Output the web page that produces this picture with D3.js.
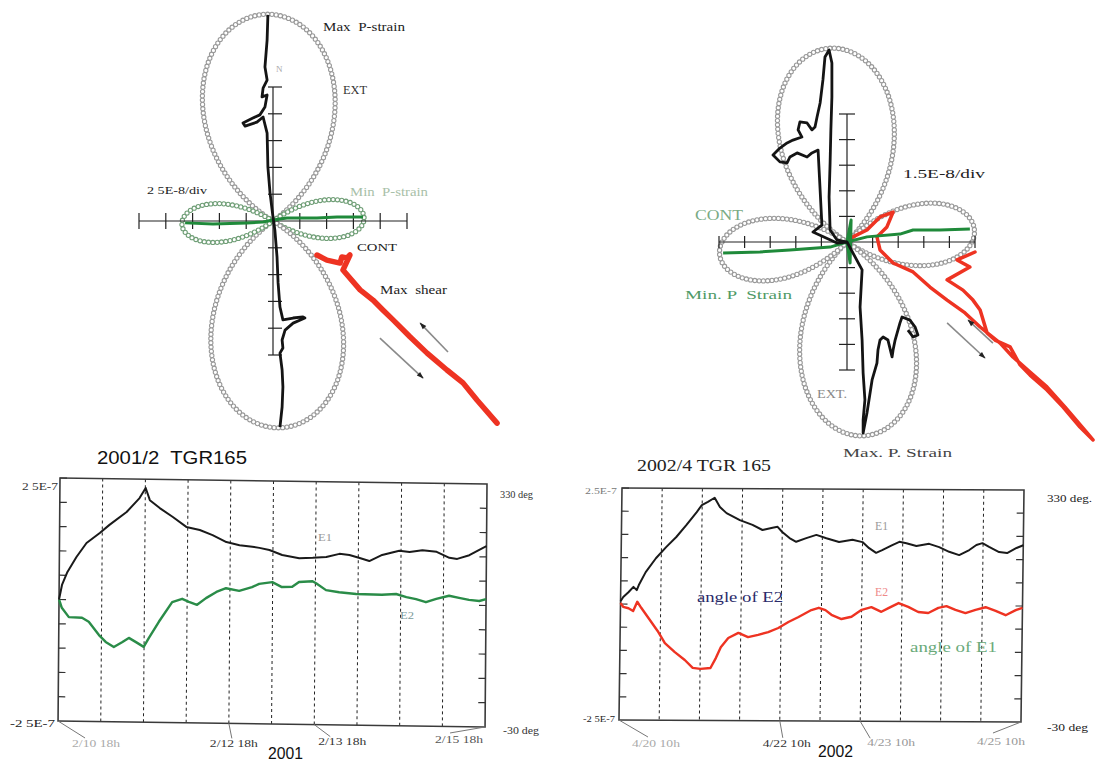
<!DOCTYPE html>
<html><head><meta charset="utf-8">
<script src="https://cdn.jsdelivr.net/npm/d3@7"></script>
<style>body{margin:0;background:#fff} svg{display:block} text{white-space:pre}</style>
</head><body>
<svg id="c" width="1099" height="762"></svg>
<script>
// ================= DATA =================
// Strain rosettes: principal strains and azimuth of max P-strain (deg, clockwise from N)
const rosetteScale2001 = 2.5e-8;          // per division
const rosetteE1_2001 = 1.93e-7;           // Max P-strain (EXT)
const rosetteE2_2001 = -0.85e-7;          // Min P-strain (CONT)
const rosetteAz2001 = -2;
const rosetteScale2002 = 1.5e-8;
const rosetteE1_2002 = 1.14e-7;
const rosetteE2_2002 = -0.75e-7;
const rosetteAz2002 = -5.5;

// Traces in rosette divisions [east, north]
const maxTrace2001 = [[-0.19,7.69],[-0.22,6.75],[-0.30,5.75],[-0.22,5.26],[-0.37,4.96],[-0.41,4.63],[-0.22,4.70],[-0.30,4.25],[-0.49,3.96],[-0.75,3.84],[-1.12,3.66],[-1.04,3.54],[-0.60,3.69],[-0.37,3.88],[-0.22,3.28],[-0.19,2.01],[-0.11,1.04],[0,0.15],
  [0.07,-0.34],[0.15,-1.34],[0.19,-2.31],[0.26,-3.21],[0.37,-3.69],[0.75,-3.62],[1.12,-3.58],[1.19,-3.62],[0.75,-3.81],[0.45,-4.07],[0.34,-4.44],[0.37,-4.74],[0.26,-4.93],[0.34,-5.56],[0.37,-6.19],[0.34,-6.94],[0.26,-7.69]];
const minTrace2001 = [[-3.28,-0.07],[-2.24,-0.11],[-0.97,-0.07],[-0.37,-0.04],[0,0.04],[0.52,0.11],[0.90,0.11],[1.64,0.11],[2.39,0.15],[3.36,0.15]];
const shearTrace2001 = [[1.64,-1.27],[2.01,-1.46],[2.5,-1.57],[2.57,-1.34],[2.76,-1.38],[2.87,-1.27],[2.61,-1.83],[3.25,-2.57],[3.73,-2.95],[4.10,-3.32],[4.48,-3.69],[5.11,-4.32],[5.75,-4.93],[6.49,-5.56],[7.09,-6.04],[7.61,-6.68],[8.36,-7.54]];

const maxTrace2002 = [[0,0],[-0.39,0.08],[-0.66,0.47],[-0.70,1.76],[-0.66,3.09],[-0.63,4.38],[-0.59,5.66],[-0.59,6.99],[-0.70,7.50],[-0.86,7.23],[-0.94,6.33],[-1.05,5.43],[-1.17,4.88],[-1.25,4.49],[-1.37,4.38],[-1.56,4.65],[-1.84,4.69],[-1.91,4.38],[-1.76,4.10],[-2.11,3.98],[-2.34,3.87],[-2.62,3.67],[-2.89,3.40],[-2.62,3.13],[-2.34,3.09],[-2.23,3.32],[-1.95,3.48],[-1.56,3.32],[-1.37,3.48],[-1.13,3.59],[-1.05,2.03],[-0.98,0.66],[-1.33,0.39],[-0.39,-0.04],[0,0],
  [0.59,-1.09],[0.51,-2.54],[0.59,-3.83],[0.63,-5.12],[0.70,-6.17],[0.63,-6.95],[0.63,-7.46],[0.78,-6.68],[0.98,-5.39],[1.17,-4.73],[1.21,-4.22],[1.29,-3.83],[1.41,-3.71],[1.60,-3.83],[1.76,-4.49],[1.80,-4.22],[1.88,-3.83],[2.07,-3.16],[2.15,-2.93],[2.46,-3.05],[2.66,-3.32],[2.77,-3.63],[2.58,-3.71],[2.38,-3.44]];
const minTrace2002 = [[-4.84,-0.43],[-3.40,-0.39],[-2.23,-0.31],[-0.66,-0.20],[0,0],[0.16,0.86],[0.12,-0.82],[0,0],[0.78,0.20],[2.07,0.31],[2.58,0.47],[3.63,0.47],[4.80,0.51]];
const shearTrace2002 = [[0,0],[0.23,0.20],[0.78,0.47],[1.29,0.98],[1.80,1.17],[1.56,0.59],[1.17,0.20],[1.29,-0.31],[1.80,-0.82],[2.58,-1.17],[3.24,-1.76],[3.91,-2.27],[4.61,-2.77],[5.20,-3.32],[5.98,-3.95],[6.48,-4.49],[7.15,-5.08],[7.81,-5.66],[8.52,-6.45],[9.38,-7.46],[9.61,-7.73],[9.10,-7.23],[8.44,-6.45],[7.81,-5.78],[7.15,-5.20],[6.76,-4.80],[6.37,-4.10],[5.78,-3.83],[5.47,-3.55],[5.20,-2.66],[4.92,-2.27],[4.53,-1.88],[3.91,-1.48],[4.80,-0.98],[4.30,-0.70],[5.00,-0.39]];

// Shear-sense arrows (rosette divisions, from -> to)
const shearArrows2001 = [[[6.53,-4.89],[5.49,-3.81]],[[3.99,-4.37],[5.60,-5.86]]];
const shearArrows2002 = [[[5.70,-3.95],[4.73,-3.05]],[[3.91,-3.16],[5.39,-4.53]]];

// Time series: [hours from start, strain in 1e-7]
const e1_2001 = [[0,0],[0.8,.30],[2.3,.57],[4.8,.88],[7.6,1.17],[11.3,1.38],[14,1.55],[18.8,1.82],[22.4,2.11],[24.1,2.32],[25.3,2.07],[28.1,1.91],[31.8,1.73],[35.6,1.53],[39.4,1.47],[43,1.37],[46.9,1.23],[50.6,1.17],[54.2,1.14],[56.2,1.12],[59,1.08],[62.6,.98],[67.4,.92],[71.2,.93],[75,.95],[78.7,1.02],[81.5,1.00],[84.4,.94],[87.1,.88],[90.7,1.01],[95.5,1.10],[98.4,1.08],[102,1.12],[106,1.09],[109.6,.97],[111.8,.95],[115.2,1.03],[118.9,1.18],[120,1.22]];
const e2_2001 = [[0,0],[0.8,-.17],[2.8,-.36],[6.5,-.37],[8.4,-.45],[11.3,-.72],[13.2,-.86],[15.5,-.96],[17.8,-.86],[19.7,-.77],[21.6,-.85],[23.9,-.95],[25.3,-.77],[28.1,-.43],[31.8,-.02],[34.6,.05],[36.5,-.01],[38.8,-.07],[41.3,.07],[44.2,.20],[46.9,.28],[50.6,.23],[54.2,.31],[56.2,.38],[59.9,.42],[62.6,.32],[65.5,.33],[67.4,.43],[71.2,.45],[72.2,.41],[75,.27],[78.7,.23],[83.5,.20],[90.7,.19],[94.7,.21],[97.6,.15],[100.3,.11],[103.1,.05],[106,.12],[109.6,.19],[112.4,.15],[115.2,.11],[118.1,.09],[120,.13]];
const e1_2002 = [[0,.06],[0.8,.15],[2.4,.26],[3.8,.37],[4.8,.30],[5.4,.41],[7.4,.69],[10.4,.99],[13.4,1.23],[16.4,1.45],[19.4,1.71],[22.4,1.99],[23.9,2.14],[25.7,2.21],[27.7,2.30],[29.3,2.10],[31.3,1.97],[35.3,1.82],[39.1,1.72],[42.1,1.61],[45.1,1.66],[46.6,1.68],[48,1.57],[50.2,1.44],[52.2,1.36],[55.2,1.44],[58.2,1.51],[61.2,1.44],[65,1.36],[69,1.41],[72,1.36],[74,1.23],[76.1,1.13],[77.9,1.19],[80.9,1.30],[83,1.37],[85.1,1.34],[88.1,1.28],[91.9,1.33],[94.9,1.26],[97.9,1.16],[100.9,1.09],[103.9,1.20],[106,1.31],[107.8,1.35],[109.8,1.27],[112.8,1.16],[115.2,1.14],[118,1.25],[120,1.31]];
const e2_2002 = [[0,.02],[0.8,-.06],[2.4,-.09],[3.8,-.15],[5,.05],[6.2,-.08],[8.4,-.30],[11.4,-.60],[13.4,-.84],[16.4,-1.03],[19.4,-1.20],[21.8,-1.37],[24.1,-1.39],[27.1,-1.37],[28.7,-1.15],[30.1,-.92],[32.3,-.72],[35.3,-.61],[38.2,-.70],[41.2,-.65],[44.2,-.59],[47.2,-.50],[50.2,-.37],[53.2,-.26],[57,-.11],[59.2,-.06],[61.2,-.11],[63,-.21],[66,-.30],[69,-.25],[72,-.10],[74.9,-.04],[77.9,-.14],[80,-.06],[83,.05],[85.9,-.03],[88.9,-.14],[91.9,-.16],[94.9,-.05],[97.3,-.01],[100,-.09],[103,-.16],[106,-.09],[109,-.03],[112,-.11],[115,-.20],[118,-.09],[120,-.04]];

const timeLabels2001 = [[0,"2/10 18h"],[48,"2/12 18h"],[72,"2/13 18h"],[120,"2/15 18h"]];
const timeLabels2002 = [[0,"4/20 10h"],[48,"4/22 10h"],[72,"4/23 10h"],[120,"4/25 10h"]];

// ================= DRAWING =================
const svg = d3.select("#c");
const serif = "'Liberation Serif','DejaVu Serif',serif";
const sans = "'Liberation Sans',Arial,sans-serif";

function label(x, y, t, size, color, w, family) {
  const el = svg.append("text").attr("x", x).attr("y", y).attr("font-size", size)
    .attr("fill", color).attr("font-family", family || serif).attr("xml:space", "preserve").text(t);
  if (w) el.attr("textLength", w).attr("lengthAdjust", "spacingAndGlyphs");
  return el;
}

const defs = svg.append("defs");
defs.append("marker").attr("id", "ah").attr("viewBox", "0 0 10 10").attr("refX", 9).attr("refY", 5)
  .attr("markerWidth", 9).attr("markerHeight", 7).attr("orient", "auto").attr("markerUnits", "userSpaceOnUse")
  .append("path").attr("d", "M0,1.5 L10,5 L0,8.5 Z").attr("fill", "#222");

function drawRosette(o) {
  const g = svg.append("g").attr("transform", `translate(${o.cx},${o.cy})`);
  const s = d3.scaleLinear().domain([0, 1]).range([0, o.px]);              // divisions -> px
  const r = d3.scaleLinear().domain([0, o.perDiv]).range([0, o.px]);       // strain -> px
  const th0 = Math.atan(Math.sqrt(o.e1 / -o.e2)) * 180 / Math.PI;
  const lobes = [[-th0, th0, o.maxColor], [th0, 180 - th0, o.minColor], [180 - th0, 180 + th0, o.maxColor], [180 + th0, 360 - th0, o.minColor]];
  const rad = Math.PI / 180;
  const radial = d3.lineRadial()
    .angle(d => (d + o.az) * rad)
    .radius(d => r(Math.abs(o.e1 * Math.cos(d * rad) ** 2 + o.e2 * Math.sin(d * rad) ** 2)));
  lobes.forEach(([a0, a1, col]) => {
    const angles = d3.range(a0, a1 + 1e-6, 0.25);
    const p = g.append("path").attr("d", radial(angles)).attr("fill", "none").attr("stroke", "none");
    const node = p.node(), L = node.getTotalLength(), n = Math.max(2, Math.round(L / 4.3));
    const pts = d3.range(n + 1).map(i => node.getPointAtLength(i * L / n));
    g.selectAll(null).data(pts).join("circle").attr("cx", d => d.x).attr("cy", d => d.y).attr("r", 2.1)
      .attr("fill", "#fff").attr("stroke", col).attr("stroke-width", 1.1);
  });
  // axes
  const ax = g.append("g").attr("stroke", "#222").attr("stroke-width", 1.2);
  ax.append("line").attr("x1", 0).attr("x2", 0).attr("y1", -s(5)).attr("y2", s(5));
  ax.append("line").attr("y1", 0).attr("y2", 0).attr("x1", -s(5)).attr("x2", s(5));
  const ticks = d3.range(-5, 6).filter(k => k !== 0);
  ax.selectAll(null).data(ticks).join("line")
    .attr("x1", -o.vtL).attr("x2", o.vtR).attr("y1", d => -s(d)).attr("y2", d => -s(d));
  ax.selectAll(null).data(ticks).join("line")
    .attr("y1", -o.ht).attr("y2", o.ht).attr("x1", d => s(d)).attr("x2", d => s(d));
  const line = d3.line().x(d => s(d[0])).y(d => -s(d[1])).curve(d3.curveLinear);
  g.append("path").attr("d", line(o.shear)).attr("fill", "none").attr("stroke", "#ee3322")
    .attr("stroke-width", o.shearW).attr("stroke-linejoin", "round").attr("stroke-linecap", "round");
  g.append("path").attr("d", line(o.minT)).attr("fill", "none").attr("stroke", "#1f8a3a")
    .attr("stroke-width", 3).attr("stroke-linejoin", "round");
  g.append("path").attr("d", line(o.maxT)).attr("fill", "none").attr("stroke", "#141414")
    .attr("stroke-width", 2.8).attr("stroke-linejoin", "round");
  o.arrows.forEach(([a, b]) => {
    g.append("line").attr("x1", s(a[0])).attr("y1", -s(a[1])).attr("x2", s(b[0])).attr("y2", -s(b[1]))
      .attr("stroke", "#8a8a8a").attr("stroke-width", 1.6).attr("marker-end", "url(#ah)");
  });
}

drawRosette({cx: 273, cy: 221, px: 26.8, perDiv: rosetteScale2001, e1: rosetteE1_2001, e2: rosetteE2_2001, az: rosetteAz2001,
  maxColor: "#999", minColor: "#6f9e76", vtL: 5, vtR: 9, ht: 8, shear: shearTrace2001, shearW: 5.5,
  minT: minTrace2001, maxT: maxTrace2001, arrows: shearArrows2001});
drawRosette({cx: 847, cy: 242, px: 25.6, perDiv: rosetteScale2002, e1: rosetteE1_2002, e2: rosetteE2_2002, az: rosetteAz2002,
  maxColor: "#999", minColor: "#999", vtL: 8, vtR: 8, ht: 6, shear: shearTrace2002, shearW: 3.5,
  minT: minTrace2002, maxT: maxTrace2002, arrows: shearArrows2002});

// rosette labels
label(323, 31, "Max  P-strain", 12, "#222", 82);
label(276, 72, "N", 9, "#aaa");
label(343, 94, "EXT", 12, "#333", 24);
label(147, 194, "2 5E-8/div", 11, "#222", 60);
label(350, 196, "Min  P-strain", 12, "#a8c0a8", 78);
label(357, 251, "CONT", 11, "#222", 40);
label(380, 294, "Max  shear", 12, "#222", 67);
label(903, 178, "1.5E-8/div", 13, "#222", 82);
label(695, 220, "CONT", 14, "#7aab84", 48);
label(685, 299, "Min. P  Strain", 13, "#4f9a66", 107);
label(817, 398, "EXT.", 13, "#888", 30);
label(843, 457, "Max. P. Strain", 13, "#444", 109);

function drawSeries(o) {
  const g = svg.append("g").attr("transform", `matrix(1,${o.skY},${o.skX},1,${o.x0},${o.y0})`);
  const x = d3.scaleLinear().domain([0, 120]).range([0, o.W]);
  const y = d3.scaleLinear().domain([-2.5, 2.5]).range([o.H, 0]);
  const yR = d3.scaleLinear().domain([-30, 330]).range([o.H, 0]);
  g.selectAll(null).data(d3.range(12, 120, 12)).join("line")
    .attr("x1", d => x(d)).attr("x2", d => x(d)).attr("y1", 0).attr("y2", o.H)
    .attr("stroke", "#222").attr("stroke-width", 1).attr("stroke-dasharray", "3,3");
  g.append("rect").attr("width", o.W).attr("height", o.H).attr("fill", "none").attr("stroke", "#3a3a3a").attr("stroke-width", 1.6);
  g.selectAll(null).data(d3.range(-2, 2.51, 0.5)).join("line")
    .attr("x1", 0).attr("x2", 7).attr("y1", d => y(d)).attr("y2", d => y(d)).attr("stroke", "#333").attr("stroke-width", 1.2);
  g.selectAll(null).data(d3.range(6, 330, 36)).join("line")
    .attr("x1", o.W - 7).attr("x2", o.W).attr("y1", d => yR(d)).attr("y2", d => yR(d)).attr("stroke", "#333").attr("stroke-width", 1.2);
  const line = d3.line().x(d => x(d[0])).y(d => y(d[1]));
  g.append("path").attr("d", line(o.e2)).attr("fill", "none").attr("stroke", o.e2Color).attr("stroke-width", 2.4).attr("stroke-linejoin", "round");
  g.append("path").attr("d", line(o.e1)).attr("fill", "none").attr("stroke", "#1a1a1a").attr("stroke-width", 2).attr("stroke-linejoin", "round");
  // time labels with leader lines
  const scr = (px, py) => [o.x0 + px + o.skX * py, o.y0 + o.skY * px + py];
  o.labels.forEach(([h, t], i) => {
    const [bx, by] = scr(x(h), o.H);
    const L = o.lead[i];
    svg.append("line").attr("x1", bx).attr("y1", by).attr("x2", bx + L[0]).attr("y2", by + L[1])
      .attr("stroke", "#777").attr("stroke-width", 1);
    label(bx + L[2], by + L[3], t, 10, L[4], 48);
  });
}

drawSeries({x0: 60, y0: 478, W: 427, H: 243, skX: -0.008, skY: 0.014, e1: e1_2001, e2: e2_2001, e2Color: "#2a8c48",
  labels: timeLabels2001,
  lead: [[27, 17, 14, 26, "#aaa"], [3, 15, -19, 24, "#333"], [16, 12, 4, 20, "#333"], [-35, 6, -50, 16, "#555"]]});
drawSeries({x0: 622, y0: 488, W: 402, H: 232, skX: -0.013, skY: 0.005, e1: e1_2002, e2: e2_2002, e2Color: "#ee3322",
  labels: timeLabels2002,
  lead: [[29, 17, 13, 27, "#aaa"], [3, 17, -17, 26, "#333"], [10, 17, 7, 25, "#999"], [-28, 11, -44, 23, "#999"]]});

// series titles and labels
label(97, 464, "2001/2  TGR165", 19, "#111", 150, sans);
label(268, 759, "2001", 17, "#111", 35, sans);
label(637, 471, "2002/4 TGR 165", 16, "#222", 134);
label(818, 757, "2002", 17, "#111", 35, sans);
label(22, 490, "2 5E-7", 10, "#333", 36);
label(10, 727, "-2 5E-7", 10, "#222", 45);
label(500, 498, "330 deg", 10, "#333", 33);
label(503, 734, "-30 deg", 10, "#333", 36);
label(318, 541, "E1", 11, "#999", 14);
label(400, 619, "E2", 11, "#7a9a9a", 14);
label(585, 494, "2.5E-7", 8, "#777", 32);
label(583, 722, "-2 5E-7", 9, "#222", 32);
label(1047, 502, "330 deg.", 10, "#222", 45);
label(1047, 731, "-30 deg", 10, "#222", 41);
label(875, 530, "E1", 12, "#999", 13);
label(875, 596, "E2", 12, "#ee8888", 13);
label(697, 602, "angle of E2", 14, "#2a2a6a", 86);
label(910, 652, "angle of E1", 14, "#6aaa7a", 87);
</script>
</body></html>
